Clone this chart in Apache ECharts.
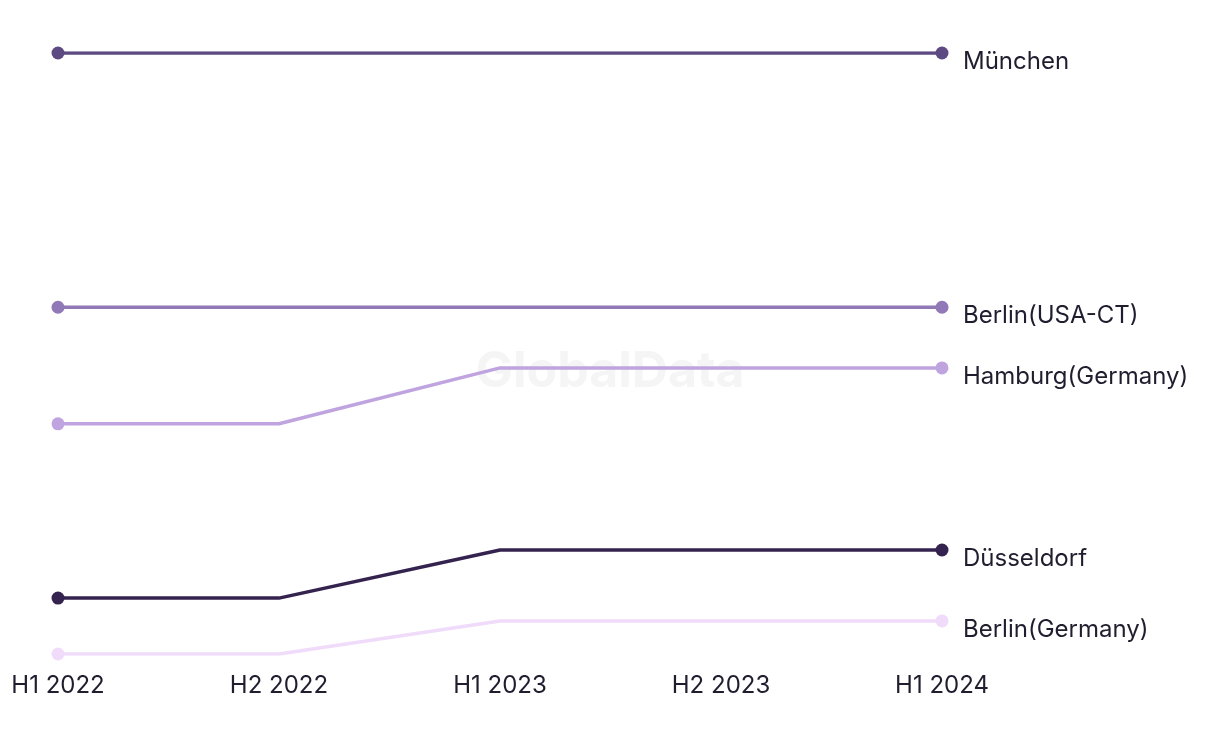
<!DOCTYPE html>
<html><head><meta charset="utf-8">
<script src="https://cdn.jsdelivr.net/npm/echarts@6/dist/echarts.min.js"></script>
<style>html,body{margin:0;padding:0;background:#fff}#c{width:1220px;height:744px}</style>
</head><body><div id="c"></div>
<script>
const categories = ['H1 2022', 'H2 2022', 'H1 2023', 'H2 2023', 'H1 2024'];
const seriesNames = ['München', 'Berlin(USA-CT)', 'Hamburg(Germany)', 'Düsseldorf', 'Berlin(Germany)'];
const muenchen = [100, 100, 100, 100, 100];
const berlinUSA = [57.7, 57.7, 57.7, 57.7, 57.7];
const hamburg = [38.3, 38.3, 47.6, 47.6, 47.6];
const duesseldorf = [9.3, 9.3, 17.3, 17.3, 17.3];
const berlinGermany = [0, 0, 5.5, 5.5, 5.5];
const colors = ['#5e4a82', '#9178b6', '#bfa4e0', '#35234f', '#f0dcfa'];
const allData = [muenchen, berlinUSA, hamburg, duesseldorf, berlinGermany];

const chart = echarts.init(document.getElementById('c'));
const font = 'Inter, "Noto Sans", sans-serif';
chart.setOption({
  animation: false,
  grid: {left: 58, right: 278, top: 53, bottom: 90},
  graphic: [{
    type: 'text', left: 'center', top: 347, z: 0,
    style: {text: 'GlobalData', fontSize: 50, fontWeight: 'bold', fill: '#f5f5f5', fontFamily: font}
  }],
  xAxis: {
    type: 'category', data: categories, boundaryGap: false,
    axisLine: {show: false}, axisTick: {show: false}, splitLine: {show: false},
    axisLabel: {color: '#1f1d2e', fontSize: 24, margin: 20, fontFamily: font}
  },
  yAxis: {type: 'value', min: 0, max: 100, show: false},
  series: allData.map((d, i) => ({
    name: seriesNames[i], type: 'line', data: d, z: 5,
    color: colors[i],
    lineStyle: {width: 3.5, color: colors[i]},
    itemStyle: {color: colors[i]},
    symbol: 'circle',
    symbolSize: (v, p) => (p.dataIndex === 0 || p.dataIndex === d.length - 1) ? 13 : 0,
    showAllSymbol: true,
    endLabel: {show: true, formatter: '{a}', color: '#1f1d2e', fontSize: 24, fontFamily: font, offset: [16, 9], distance: 5}
  }))
});
</script></body></html>
